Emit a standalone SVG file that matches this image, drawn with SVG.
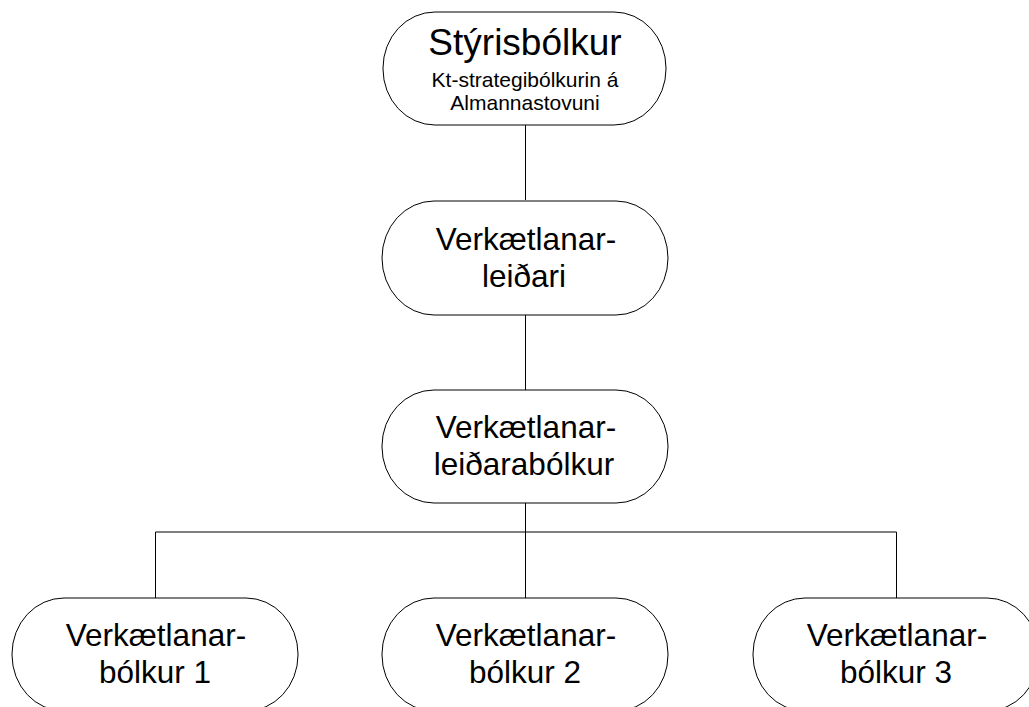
<svg xmlns="http://www.w3.org/2000/svg" width="1029" height="707" viewBox="0 0 1029 707">
<style>
.node{fill:#fff;stroke:#000;stroke-width:1}
.conn{fill:none;stroke:#000;stroke-width:1}
text{font-family:"Liberation Sans",Arial,sans-serif;fill:#000;text-anchor:middle}
.big{font-size:37px}
.sub{font-size:21px}
.lbl{font-size:31.5px}
</style>
<rect width="1029" height="707" fill="#fff"/>
<g id="connectors">
<path class="conn" d="M525.5 125 V200 M525.5 315 V390 M525.5 503 V598 M155.5 598 V532 H896.5 V598"/>
</g>
<g id="styrisbolkur">
<rect class="node" x="383" y="12" width="283" height="113" rx="52" ry="56"/>
<text class="big" x="525" y="55">Stýrisbólkur</text>
<text class="sub" x="525" y="87">Kt-strategibólkurin á</text>
<text class="sub" x="525" y="110">Almannastovuni</text>
</g>
<g id="leidari">
<rect class="node" x="382" y="201" width="286" height="114" rx="52" ry="57"/>
<text class="lbl" x="526" y="250">Verkætlanar-</text>
<text class="lbl" x="524" y="287">leiðari</text>
</g>
<g id="leidarabolkur">
<rect class="node" x="382" y="390" width="286" height="113" rx="52" ry="56"/>
<text class="lbl" x="526" y="438">Verkætlanar-</text>
<text class="lbl" x="524" y="475">leiðarabólkur</text>
</g>
<g id="bolkur1">
<rect class="node" x="12" y="598" width="286" height="113" rx="52" ry="56"/>
<text class="lbl" x="156" y="646">Verkætlanar-</text>
<text class="lbl" x="155" y="683">bólkur 1</text>
</g>
<g id="bolkur2">
<rect class="node" x="382" y="598" width="286" height="113" rx="52" ry="56"/>
<text class="lbl" x="526" y="646">Verkætlanar-</text>
<text class="lbl" x="525" y="683">bólkur 2</text>
</g>
<g id="bolkur3">
<rect class="node" x="753" y="598" width="286" height="113" rx="52" ry="56"/>
<text class="lbl" x="897" y="646">Verkætlanar-</text>
<text class="lbl" x="896" y="683">bólkur 3</text>
</g>
</svg>
